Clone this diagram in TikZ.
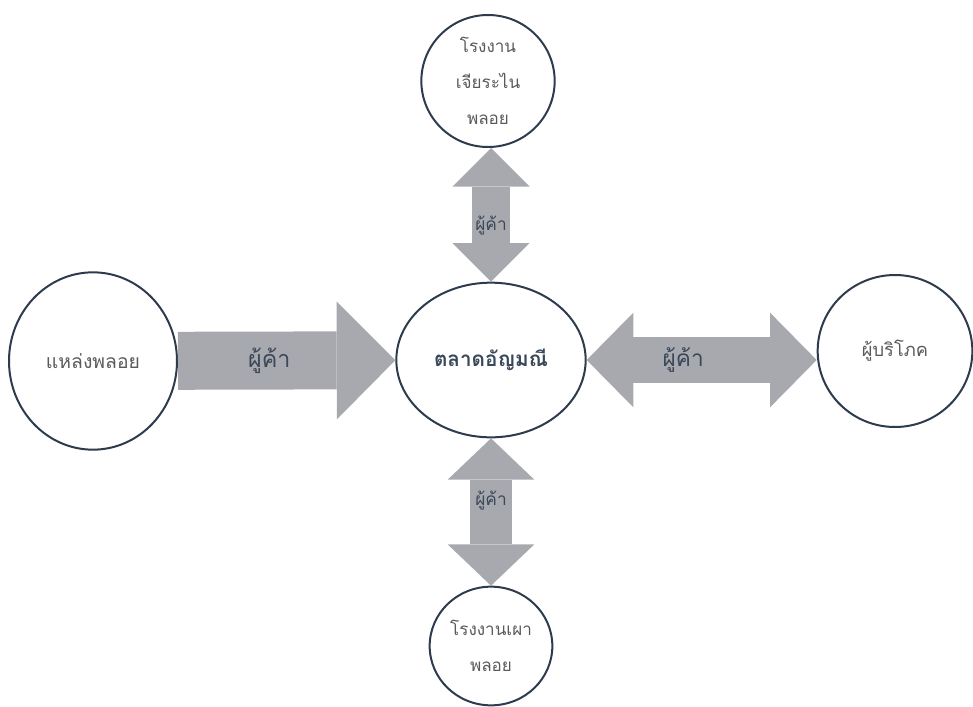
\documentclass[tikz,border=0pt]{standalone}
\usepackage{fontspec}
\newfontfamily\thaifont[Script=Thai]{Loma}
\usetikzlibrary{shapes.geometric,arrows.meta}
\definecolor{rimcol}{HTML}{2E3B4C}
\definecolor{flowcol}{HTML}{A7A9AF}
\definecolor{txtcol}{HTML}{5A5A5A}
\definecolor{maincol}{HTML}{3A4859}
\tikzset{
	place/.style={shape=ellipse, draw=rimcol, line width=1.5pt, inner sep=0pt, text=txtcol, font=\thaifont\fontsize{#1}{27}\selectfont, align=center},
	place/.default=14.5,
	flow/.style={draw=flowcol, line width=#1},
	trader/.style={pos=0.42, text=maincol, font=\thaifont\fontsize{#1}{#1}\selectfont}
}
\begin{document}
\begin{tikzpicture}[x=0.75pt, y=-0.75pt]
		\useasboundingbox (0,0) rectangle (973,706);
		\node[place, minimum width=126pt, minimum height=133pt] (Src) at (93,361) {แหล่งพลอย};
		\node[place, minimum width=142pt, minimum height=116pt, text=maincol, font=\thaifont\bfseries\fontsize{15.5}{18}\selectfont] (Mkt) at (491,360) {ตลาดอัญมณี};
		\node[place=13.7, minimum width=116pt, minimum height=114pt] (Cons) at (895,351) {ผู้บริโภค};
		\node[place=12.8, minimum width=100pt, minimum height=99pt] (Cut) at (488,81) {โรงงาน\\เจียระไน\\พลอย};
		\node[place=12.8, minimum width=92pt, minimum height=89pt] (Burn) at (491,646) {โรงงานเผา\\พลอย};
		% Connections
		\draw [flow=43.5pt, -{Triangle[length=44pt, width=88.5pt, line width=0pt]}] (Src) to node [trader=17.5] {ผู้ค้า} (Mkt);
		\draw [flow=35pt, {Triangle[length=35pt, width=71pt, line width=0pt]}-{Triangle[length=35pt, width=71pt, line width=0pt]}] (Mkt.east) to node [trader=17] {ผู้ค้า} (Mkt.east -| Cons.west);
		\draw [flow=29pt, {Triangle[length=29pt, width=58pt, line width=0pt]}-{Triangle[length=29pt, width=58pt, line width=0pt]}] (Mkt.north) to node [trader=13] {ผู้ค้า} (Mkt.north |- Cut.south);
		\draw [flow=31.5pt, {Triangle[length=31pt, width=65pt, line width=0pt]}-{Triangle[length=31pt, width=65pt, line width=0pt]}] (Mkt.south) to node [trader=13] {ผู้ค้า} (Mkt.south |- Burn.north);
	\end{tikzpicture}
\end{document}
